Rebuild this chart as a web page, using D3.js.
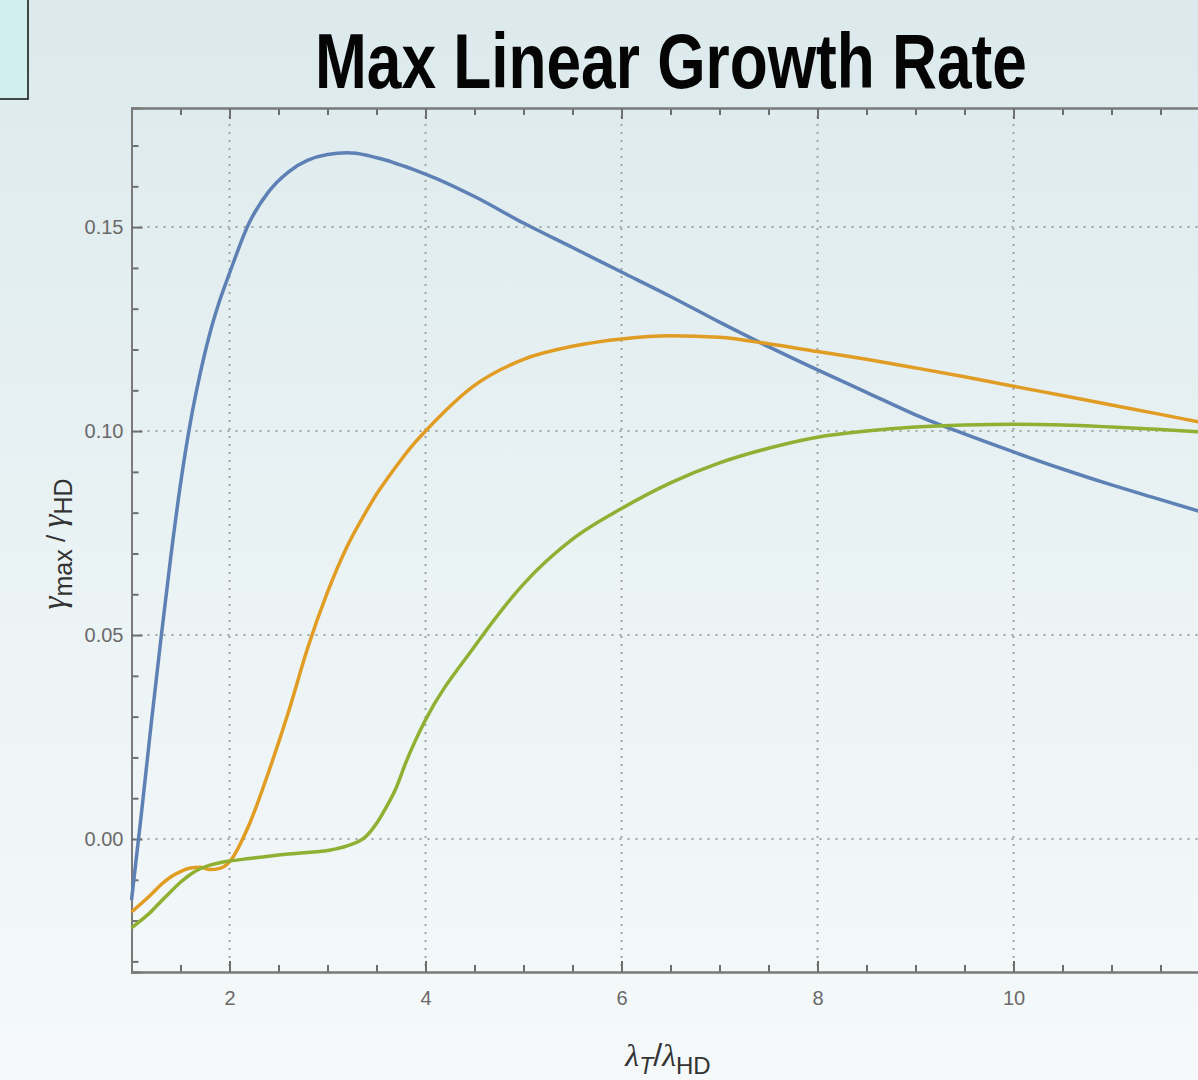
<!DOCTYPE html>
<html>
<head>
<meta charset="utf-8">
<script src="https://cdn.jsdelivr.net/npm/d3@7"></script>
<style>
	html, body { margin: 0; padding: 0; overflow: hidden; }
	svg { display: block; }
	.tick text { fill: #6a6a6a; font-family: 'Liberation Sans', Arial, sans-serif; font-size: 20px; }
	.domain { stroke: #7a7a7a; stroke-width: 2; }
	.tick line { stroke: #6e6e6e; stroke-width: 2; }
	.grid line { stroke: #a0a4a6; stroke-width: 2; stroke-dasharray: 2,6; }
</style>
</head>
<body>
<div id="chart"></div>
<script>
// lambda_T / lambda_HD sample points shared by every series
const lambdaRatio = [1.0, 1.1, 1.2, 1.3, 1.4, 1.5, 1.6, 1.7, 1.8, 1.9, 2.0, 2.2, 2.4, 2.6, 2.8, 3.0, 3.2, 3.4, 3.5, 3.6, 3.7, 3.8, 3.9, 4.0, 4.5, 5, 5.5, 6, 6.5, 7, 7.5, 8, 8.5, 9, 9.5, 10, 10.5, 11, 11.5, 11.9];

const growthBlue = [-0.015, 0.006, 0.028, 0.049, 0.069, 0.087, 0.102, 0.114, 0.124, 0.132, 0.1387, 0.151, 0.1587, 0.1635, 0.1664, 0.1678, 0.1682, 0.1676, 0.167, 0.1664, 0.1656, 0.1648, 0.1639, 0.163, 0.1575, 0.151, 0.145, 0.139, 0.133, 0.1267, 0.1207, 0.115, 0.1095, 0.104, 0.0993, 0.0949, 0.0907, 0.0868, 0.0832, 0.0803];

const growthOrange = [-0.0179, -0.0158, -0.0136, -0.0112, -0.0093, -0.008, -0.0071, -0.0069, -0.0075, -0.0072, -0.0056, 0.0035, 0.0165, 0.031, 0.047, 0.0605, 0.0717, 0.0805, 0.0845, 0.088, 0.0913, 0.0945, 0.0974, 0.1, 0.1112, 0.1176, 0.1208, 0.1226, 0.1234, 0.123, 0.1214, 0.1195, 0.1176, 0.1155, 0.1133, 0.111, 0.1087, 0.1064, 0.1041, 0.1022];

const growthGreen = [-0.0218, -0.0199, -0.0178, -0.0153, -0.0129, -0.0106, -0.0087, -0.0073, -0.0064, -0.0058, -0.0054, -0.0048, -0.0042, -0.0037, -0.0033, -0.0028, -0.0017, 0.0008, 0.0038, 0.0078, 0.0125, 0.0188, 0.0243, 0.0292, 0.0472, 0.0625, 0.0735, 0.081, 0.0873, 0.0922, 0.0958, 0.0985, 0.1, 0.101, 0.1015, 0.1017, 0.1015, 0.101, 0.1004, 0.0998];

const seriesColors = ['#5e81b5', '#e19c24', '#8fb032'];

const xMajorTicks = [2, 4, 6, 8, 10, 12];
const yMajorTicks = [0, 0.05, 0.1, 0.15];

const titleText = 'Max Linear Growth Rate';

const WIDTH = 1198;
const HEIGHT = 1080;
const MAJOR = 11;
const MINOR = 7;
const TITLE_WIDTH = 712;

const frame = { left: 131.5, top: 108, bottom: 972 };

const x = d3.scaleLinear().domain([1, 12]).range([frame.left, frame.left + 11 * 98]);
const y = d3.scaleLinear().domain([-0.0326, 0.1792]).range([frame.bottom, frame.top]);

const xMinorTicks = d3.range(1, 12.01, 0.5).filter(v => !xMajorTicks.includes(v));
const yMinorTicks = d3.range(-0.03, 0.175, 0.01).map(v => +v.toFixed(2)).filter(v => !yMajorTicks.includes(v));

const $svg = d3.select('#chart').append('svg').attr('width', WIDTH).attr('height', HEIGHT);

// background
const grad = $svg.append('defs').append('linearGradient')
	.attr('id', 'bg').attr('x1', 0).attr('y1', 0).attr('x2', 0).attr('y2', 1);
grad.append('stop').attr('offset', '0%').attr('stop-color', '#dceaed');
grad.append('stop').attr('offset', '55%').attr('stop-color', '#ebf3f4');
grad.append('stop').attr('offset', '100%').attr('stop-color', '#f5f9fa');
$svg.append('rect').attr('width', WIDTH).attr('height', HEIGHT).attr('fill', 'url(#bg)');

// the little box in the top left corner
$svg.append('rect')
	.attr('x', -2).attr('y', -2).attr('width', 30).attr('height', 101)
	.attr('fill', '#d2efef').attr('stroke', '#111').attr('stroke-width', 1.5);

// title, squeezed horizontally to look like a condensed face
const $title = $svg.append('text')
	.style('font-family', "'Liberation Sans Narrow', 'Arial Narrow', 'Liberation Sans', sans-serif")
	.style('font-weight', 'bold').style('font-size', '78px').style('fill', '#050505')
	.text(titleText);
const sx = TITLE_WIDTH / $title.node().getComputedTextLength();
$title.attr('transform', `translate(315,88) scale(${sx},1)`);

// grid
$svg.append('g').attr('class', 'grid')
	.selectAll('line').data(xMajorTicks).join('line')
	.attr('x1', d => x(d)).attr('x2', d => x(d))
	.attr('y1', frame.top).attr('y2', frame.bottom);
$svg.append('g').attr('class', 'grid')
	.selectAll('line').data(yMajorTicks).join('line')
	.attr('x1', frame.left).attr('x2', x(12))
	.attr('y1', d => y(d)).attr('y2', d => y(d));

// axes: minor ticks first, then major with labels
const fmtY = d3.format('.2f');
// 12 sits past the right edge of the picture, so it gets a tick but no label
const fmtX = d => (d < 12 ? d3.format('d')(d) : '');

$svg.append('g').attr('transform', `translate(0,${frame.bottom})`)
	.call(d3.axisBottom(x).tickValues(xMinorTicks).tickSize(-MINOR).tickFormat(''));
$svg.append('g').attr('transform', `translate(0,${frame.bottom})`)
	.call(d3.axisBottom(x).tickValues(xMajorTicks).tickSize(-MAJOR).tickPadding(19).tickFormat(fmtX));

$svg.append('g').attr('transform', `translate(0,${frame.top})`)
	.call(d3.axisTop(x).tickValues(xMinorTicks).tickSize(-MINOR).tickFormat(''));
$svg.append('g').attr('transform', `translate(0,${frame.top})`)
	.call(d3.axisTop(x).tickValues(xMajorTicks).tickSize(-MAJOR).tickFormat(''));

$svg.append('g').attr('transform', `translate(${frame.left},0)`)
	.call(d3.axisLeft(y).tickValues(yMinorTicks).tickSize(-MINOR).tickFormat(''));
$svg.append('g').attr('transform', `translate(${frame.left},0)`)
	.call(d3.axisLeft(y).tickValues(yMajorTicks).tickSize(-MAJOR).tickPadding(8).tickFormat(fmtY));

// curves
const line = d3.line()
	.x((d, i) => x(lambdaRatio[i]))
	.y(d => y(d))
	.curve(d3.curveMonotoneX);

$svg.append('g').attr('class', 'g-lines')
	.selectAll('path')
	.data([growthBlue, growthOrange, growthGreen])
	.join('path')
	.attr('d', line)
	.attr('fill', 'none')
	.attr('stroke', (d, i) => seriesColors[i])
	.attr('stroke-width', 3.5)
	.attr('stroke-linejoin', 'round');

// axis labels
const labelFont = "'Liberation Serif', 'Times New Roman', serif";

const $xl = $svg.append('text')
	.attr('x', 668).attr('y', 1066)
	.attr('text-anchor', 'middle')
	.style('font-family', "'Liberation Sans', Arial, sans-serif")
	.style('font-size', '32px').style('fill', '#333');
$xl.append('tspan').style('font-family', labelFont).style('font-style', 'italic').text('λ');
$xl.append('tspan').attr('dy', 8).style('font-size', '23px').style('font-style', 'italic').text('T');
$xl.append('tspan').attr('dy', -8).text('/');
$xl.append('tspan').style('font-family', labelFont).style('font-style', 'italic').text('λ');
$xl.append('tspan').attr('dy', 8).style('font-size', '24px').text('HD');

const $yl = $svg.append('text')
	.attr('transform', 'translate(65,544) rotate(-90)')
	.attr('text-anchor', 'middle')
	.style('font-family', "'Liberation Sans', Arial, sans-serif")
	.style('font-size', '33px').style('fill', '#333');
$yl.append('tspan').style('font-family', labelFont).style('font-style', 'italic').text('γ');
$yl.append('tspan').attr('dy', 7).style('font-size', '25px').text('max');
$yl.append('tspan').attr('dy', -7).style('font-size', '26px').text(' / ');
$yl.append('tspan').style('font-family', labelFont).style('font-style', 'italic').text('γ');
$yl.append('tspan').attr('dy', 7).style('font-size', '25px').text('HD');
</script>
</body>
</html>
